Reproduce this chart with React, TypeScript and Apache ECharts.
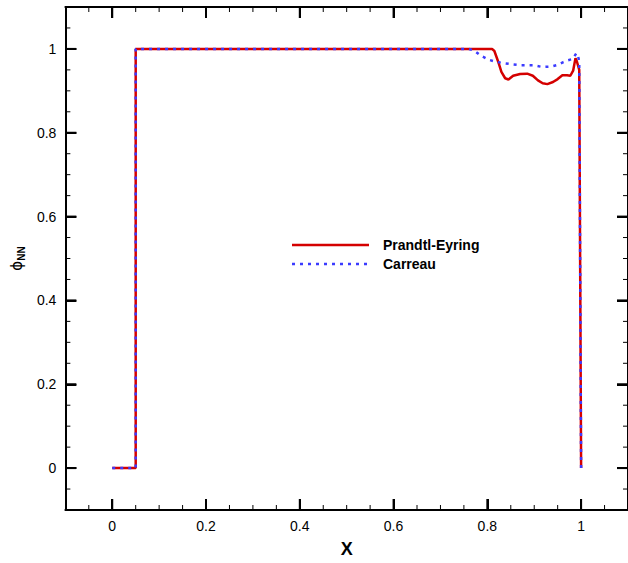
import React, { useEffect, useRef } from "react";
import * as echarts from "echarts";

const peX = [0, 0.05, 0.05, 0.81, 0.815, 0.823, 0.83, 0.838, 0.845, 0.855, 0.87, 0.885, 0.897, 0.908, 0.918, 0.928, 0.94, 0.95, 0.96, 0.97, 0.977, 0.983, 0.988, 0.991, 0.994, 0.996, 1.0];
const peY = [0, 0, 1, 1, 0.995, 0.97, 0.945, 0.93, 0.927, 0.936, 0.94, 0.941, 0.936, 0.925, 0.918, 0.916, 0.921, 0.928, 0.937, 0.937, 0.936, 0.948, 0.978, 0.97, 0.958, 0.95, 0];
const caX = [0, 0.05, 0.05, 0.76, 0.772, 0.786, 0.803, 0.82, 0.835, 0.855, 0.873, 0.898, 0.917, 0.936, 0.95, 0.961, 0.972, 0.982, 0.99, 0.993, 0.996, 1.0];
const caY = [0, 0, 1, 1, 0.996, 0.984, 0.974, 0.969, 0.966, 0.963, 0.961, 0.961, 0.957, 0.958, 0.962, 0.968, 0.973, 0.976, 0.99, 0.985, 0.97, 0];

const xMajor = [0, 0.2, 0.4, 0.6, 0.8, 1];
const yMajor = [0, 0.2, 0.4, 0.6, 0.8, 1];
const xMinor = [-0.05, 0.05, 0.1, 0.15, 0.25, 0.3, 0.35, 0.45, 0.5, 0.55, 0.65, 0.7, 0.75, 0.85, 0.9, 0.95, 1.05];
const yMinor = [-0.05, 0.05, 0.1, 0.15, 0.25, 0.3, 0.35, 0.45, 0.5, 0.55, 0.65, 0.7, 0.75, 0.85, 0.9, 0.95, 1.05];
const seriesNames = ["Prandtl-Eyring", "Carreau"];

const FONT = "Liberation Sans, Arial, sans-serif";
const X_MIN = -0.1;
const X_MAX = 1.1;
const Y_MIN = -0.1;
const Y_MAX = 1.1;
const RED = "#d40000";
const BLUE = "#3b3bff";

export default function App() {
  const ref = useRef<HTMLDivElement>(null);
  useEffect(() => {
    document.body.style.margin = "0";
    const chart = echarts.init(ref.current!, null, { renderer: "svg" });
    const axisBase = (pos: string, min: number, max: number, ticks: number[], labels: boolean) => ({
      type: "value",
      position: pos,
      min,
      max,
      splitLine: { show: false },
      axisLine: { show: true, onZero: false, lineStyle: { color: "#000", width: 2 } },
      axisTick: { show: true, inside: true, length: 11, customValues: ticks, lineStyle: { color: "#000", width: 2 } },
      axisLabel: labels
        ? {
            show: true,
            customValues: ticks,
            fontSize: 14,
            color: "#000",
            fontFamily: FONT,
            margin: 9,
            formatter: (v: number) => String(Math.round(v * 10) / 10),
          }
        : { show: false },
    });

    const toPairs = (xs: number[], ys: number[]) => xs.map((x, i) => [x, ys[i]]);
    const tickData = (major: number[], minor: number[]) => [
      ...major.map((v) => [v, 1]),
      ...minor.map((v) => [v, 0]),
    ];
    const tickStyle = (major: boolean) => ({ stroke: "#000", lineWidth: major ? 2 : 1 });

    chart.setOption({
      animation: false,
      grid: { left: 64, top: 7, width: 571, height: 512 },
      xAxis: [
        {
          ...axisBase("bottom", X_MIN, X_MAX, xMajor, true),
          name: "X",
          nameLocation: "middle",
          nameGap: 30,
          nameTextStyle: { fontSize: 18, fontWeight: "bold", color: "#000", fontFamily: FONT },
        },
        axisBase("top", X_MIN, X_MAX, xMajor, false),
      ],
      yAxis: [
        {
          ...axisBase("left", Y_MIN, Y_MAX, yMajor, true),
          name: "{a|ϕ}{b|NN}",
          nameLocation: "middle",
          nameRotate: 90,
          nameGap: 36,
          nameTextStyle: {
            color: "#000",
            rich: {
              a: { fontSize: 15, fontFamily: "DejaVu Sans", color: "#000", lineHeight: 20 },
              b: { fontSize: 10, fontWeight: "bold", fontFamily: FONT, color: "#000", lineHeight: 20, padding: [8, 0, 0, 0] },
            },
          },
        },
        axisBase("right", Y_MIN, Y_MAX, yMajor, false),
      ],
      graphic: [
        { type: "line", shape: { x1: 292, y1: 245, x2: 369, y2: 245 }, style: { stroke: RED, lineWidth: 2.5 } },
        { type: "line", shape: { x1: 292, y1: 264, x2: 369, y2: 264 }, style: { stroke: BLUE, lineWidth: 2.5, lineDash: [3, 5] } },
        { type: "text", x: 383, y: 245, style: { text: seriesNames[0], fontSize: 14, fontWeight: "bold", fill: "#000", fontFamily: FONT, verticalAlign: "middle" } },
        { type: "text", x: 383, y: 264, style: { text: seriesNames[1], fontSize: 14, fontWeight: "bold", fill: "#000", fontFamily: FONT, verticalAlign: "middle" } },
      ],
      series: [
        {
          name: seriesNames[1],
          type: "line",
          xAxisIndex: 0,
          yAxisIndex: 0,
          symbol: "none",
          data: toPairs(caX, caY),
          lineStyle: { color: BLUE, width: 2.5, type: [3, 5] },
          itemStyle: { color: BLUE },
          z: 3,
        },
        {
          name: seriesNames[0],
          type: "line",
          xAxisIndex: 0,
          yAxisIndex: 0,
          symbol: "none",
          data: toPairs(peX, peY),
          lineStyle: { color: RED, width: 2.5 },
          itemStyle: { color: RED },
          z: 2,
        },
        {
          type: "custom",
          xAxisIndex: 0,
          yAxisIndex: 0,
          silent: true,
          clip: false,
          z: 4,
          data: tickData(xMajor, xMinor),
          renderItem: (_p: any, api: any) => {
            const v = api.value(0);
            const major = api.value(1) === 1;
            const len = major ? 11 : 5;
            const b = api.coord([v, Y_MIN]);
            const t = api.coord([v, Y_MAX]);
            return {
              type: "group",
              children: [
                { type: "line", shape: { x1: b[0], y1: b[1], x2: b[0], y2: b[1] - len }, style: tickStyle(major) },
                { type: "line", shape: { x1: t[0], y1: t[1], x2: t[0], y2: t[1] + len }, style: tickStyle(major) },
              ],
            };
          },
        },
        {
          type: "custom",
          xAxisIndex: 0,
          yAxisIndex: 0,
          silent: true,
          clip: false,
          z: 4,
          data: tickData(yMajor, yMinor),
          renderItem: (_p: any, api: any) => {
            const v = api.value(0);
            const major = api.value(1) === 1;
            const len = major ? 11 : 5;
            const l = api.coord([X_MIN, v]);
            const r = api.coord([X_MAX, v]);
            return {
              type: "group",
              children: [
                { type: "line", shape: { x1: l[0], y1: l[1], x2: l[0] + len, y2: l[1] }, style: tickStyle(major) },
                { type: "line", shape: { x1: r[0], y1: r[1], x2: r[0] - len, y2: r[1] }, style: tickStyle(major) },
              ],
            };
          },
        },
      ],
    });
    return () => chart.dispose();
  }, []);
  return <div ref={ref} style={{ width: 628, height: 563 }} />;
}
